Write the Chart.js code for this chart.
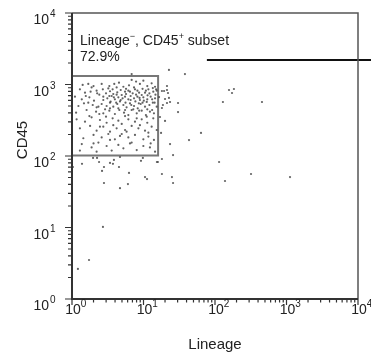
<!DOCTYPE html>
<html>
<head>
<meta charset="utf-8">
<script src="https://cdn.jsdelivr.net/npm/chart.js"></script>
<style>
  html, body { margin: 0; padding: 0; background: #fff; }
  #wrap { width: 371px; height: 354px; }
</style>
</head>
<body>
<div id="wrap"><canvas id="flow"></canvas></div>
<script>
// events inside the Lineage- CD45+ gate: [Lineage, CD45]
const gatedEvents = [
  [1.41, 985], [1.69, 1020], [2.0, 950], [2.6, 1020], [3.33, 950], [3.9, 1020], [4.54, 1060], [5.23, 930],
  [6.27, 975], [6.83, 1160], [7.87, 1100], [8.91, 1020], [9.95, 1130], [11.3, 950], [13.0, 1040], [14.5, 930],
  [1.52, 769], [1.82, 794], [2.21, 820], [2.41, 721], [2.99, 752], [3.40, 804], [3.78, 736], [4.30, 777],
  [4.96, 713], [5.52, 794], [6.14, 820], [7.06, 752], [7.60, 855], [8.68, 769], [9.44, 713], [10.8, 820],
  [12.1, 752], [13.7, 794], [15.3, 820],
  [1.37, 621], [1.75, 661], [2.03, 594], [2.74, 676], [3.12, 641], [3.59, 690], [3.98, 621], [4.45, 661],
  [4.80, 607], [5.52, 676], [6.14, 621], [6.61, 690], [7.37, 641], [8.22, 676], [8.91, 607], [9.95, 661],
  [11.3, 621], [12.6, 676], [14.5, 641],
  [1.23, 500], [1.47, 546], [1.95, 517], [2.34, 490], [2.6, 534], [3.05, 500], [3.40, 557], [3.78, 490],
  [4.30, 534], [5.23, 517], [5.80, 479], [6.47, 546], [7.37, 500], [8.30, 464], [9.13, 534], [10.5, 490],
  [12.1, 517], [13.5, 557], [15.3, 490],
  [1.14, 403], [1.60, 440], [2.17, 417], [2.74, 395], [3.33, 430], [3.98, 387], [4.59, 440], [5.34, 403],
  [6.14, 374], [6.83, 440], [8.04, 395], [9.44, 430], [10.8, 374], [12.3, 417], [14.0, 395],
  [1.16, 326], [1.52, 302], [1.88, 347], [2.46, 319], [3.05, 292], [3.70, 336], [4.45, 312], [4.96, 281],
  [6.14, 326], [7.60, 302], [9.44, 326], [11.3, 292], [13.7, 336],
  [1.29, 244], [1.79, 263], [2.21, 226], [2.74, 257], [3.40, 219], [4.21, 244], [5.52, 231], [5.80, 219],
  [6.83, 263], [8.49, 244], [10.5, 226], [13.0, 257], [15.3, 231],
  [1.44, 177], [2.0, 197], [2.6, 182], [3.22, 203], [3.98, 171], [4.69, 191], [6.14, 182], [7.60, 197],
  [9.95, 171], [11.7, 187], [14.0, 168],
  [1.37, 147], [1.88, 132], [2.34, 154], [3.05, 138], [3.59, 119], [4.45, 143], [5.23, 128], [6.83, 154],
  [8.04, 121], [9.95, 138], [12.3, 132], [14.5, 115], [2.21, 115], [1.29, 119],
  [3.22, 880], [3.70, 855], [4.21, 910], [4.80, 838], [5.70, 870], [6.47, 794], [7.37, 910], [8.22, 820],
  [9.7, 870], [10.5, 769], [11.7, 855], [13.5, 890], [15.0, 855],
  [3.33, 690], [3.85, 661], [4.21, 721], [5.1, 641], [5.70, 736], [6.61, 607], [7.87, 721], [8.8, 650],
  [10.1, 594], [11.4, 705], [13.2, 621], [14.7, 721],
  [3.47, 575], [4.15, 557], [4.69, 580], [5.6, 557], [6.75, 517], [7.7, 580], [8.6, 546], [9.7, 557],
  [11.1, 570], [14.3, 557],
  [2.9, 449], [3.40, 464], [4.45, 464], [5.52, 440], [7.2, 449], [8.7, 430], [11.3, 449], [13.2, 440],
  [1.29, 855], [1.56, 690], [1.88, 910], [2.25, 752], [2.7, 855], [1.69, 557], [2.21, 479], [1.10, 676],
  [2.74, 607], [2.41, 387], [1.75, 362], [2.99, 355],
  [3.78, 270], [4.96, 203], [8.91, 270], [11.7, 212], [6.47, 150], [3.40, 168], [2.0, 150], [12.6, 150],
  [8.04, 336], [5.52, 362], [11.1, 355], [2.46, 257]
];

// events outside the gate
const otherEvents = [
  [6.83, 1400], [22.7, 1600], [38, 1400], [21.3, 953], [21.3, 838], [18.1, 811], [19.4, 811], [22, 760],
  [16.5, 668], [20, 627], [22.7, 648], [23.5, 569], [21.3, 551], [18.7, 517], [30.4, 551], [18.1, 469],
  [30.4, 412], [17, 351], [20, 309], [157, 838], [173, 760], [184, 865], [129, 569], [454, 569],
  [63.7, 210], [43.3, 167], [17.6, 210], [23.5, 147], [25.9, 103], [15.9, 82.4], [18.1, 90.8], [114, 82.4],
  [18.1, 56], [25, 50.8], [25.9, 41.9], [319, 56], [138, 44.7], [1120, 50.8],
  [1.38, 77.7], [1.03, 70.2], [1.97, 93.9], [2.24, 93.9], [2.39, 82.4], [2.80, 70.2], [2.63, 61.8], [3.40, 80.1],
  [3.74, 77.7], [3.86, 88.2], [4.54, 70.2], [4.69, 96.9], [6.27, 58], [2.80, 41.9], [4.69, 35.5], [6.06, 40.5],
  [9.22, 85.5], [9.8, 93.9], [10.5, 50.8], [11.2, 47.6], [15.4, 82.4],
  [2.71, 10.2], [1.73, 3.51], [1.21, 2.63]
];

// gate bounds and the pointer line
const gateLineage = [1, 16];
const gateCd45 = [102, 1320];
const pointerLineage = [77, 15200];
const pointerCd45 = 2200;

const decades = [0, 1, 2, 3, 4];
const minorSteps = [2, 3, 4, 5, 6, 7, 8, 9];
const gateLabel = ['Lineage', '−', ', CD45', '+', ' subset'];
const gatePercent = '72.9%';

const toPts = arr => arr.map(e => ({ x: e[0], y: e[1] }));

const gatePath = [
  { x: gateLineage[0], y: gateCd45[0] }, { x: gateLineage[1], y: gateCd45[0] },
  { x: gateLineage[1], y: gateCd45[1] }, { x: gateLineage[0], y: gateCd45[1] },
  { x: gateLineage[0], y: gateCd45[0] }
];

const FONT = '"Liberation Sans", Arial, sans-serif';

// frame, log ticks, labels and the gate annotation
const flowAxes = {
  id: 'flowAxes',
  afterDraw(chart) {
    const { ctx, chartArea: a, scales: { x, y } } = chart;
    ctx.save();

    // top/right box
    ctx.strokeStyle = '#555';
    ctx.lineWidth = 1.5;
    ctx.beginPath();
    ctx.moveTo(a.left, a.top);
    ctx.lineTo(a.right, a.top);
    ctx.lineTo(a.right, a.bottom);
    ctx.stroke();

    // left and bottom axes
    ctx.strokeStyle = '#333';
    ctx.lineWidth = 2;
    ctx.beginPath();
    ctx.moveTo(a.left, a.top);
    ctx.lineTo(a.left, a.bottom);
    ctx.lineTo(a.right, a.bottom);
    ctx.stroke();

    // ticks
    ctx.lineWidth = 1.2;
    ctx.strokeStyle = '#333';
    ctx.beginPath();
    decades.forEach(d => {
      const v = Math.pow(10, d);
      const px = x.getPixelForValue(v), py = y.getPixelForValue(v);
      ctx.moveTo(px, a.bottom); ctx.lineTo(px, a.bottom + 6);
      ctx.moveTo(a.left, py); ctx.lineTo(a.left - 7, py);
      if (d < 4) {
        minorSteps.forEach(m => {
          const mx = x.getPixelForValue(m * v), my = y.getPixelForValue(m * v);
          ctx.moveTo(mx, a.bottom); ctx.lineTo(mx, a.bottom + 3.5);
          ctx.moveTo(a.left, my); ctx.lineTo(a.left - 4, my);
        });
      }
    });
    ctx.stroke();

    // tick labels 10^n
    ctx.fillStyle = '#222';
    decades.forEach(d => {
      const v = Math.pow(10, d);
      // x axis
      const px = x.getPixelForValue(v);
      ctx.font = '14px ' + FONT;
      ctx.textAlign = 'center';
      ctx.textBaseline = 'alphabetic';
      const w10 = ctx.measureText('10').width;
      ctx.fillText('10', px + 1, a.bottom + 15);
      ctx.font = '10px ' + FONT;
      ctx.textAlign = 'left';
      ctx.fillText(String(d), px + 1 + w10 / 2, a.bottom + 8);
      // y axis
      const py = y.getPixelForValue(v);
      ctx.font = '14px ' + FONT;
      ctx.textAlign = 'right';
      ctx.fillText('10', 49, py + 11);
      ctx.font = '10px ' + FONT;
      ctx.textAlign = 'left';
      ctx.fillText(String(d), 50, py + 4);
    });

    // axis titles
    ctx.font = '15px ' + FONT;
    ctx.textAlign = 'center';
    ctx.fillText('Lineage', (a.left + a.right) / 2 + 0, 349);
    ctx.save();
    ctx.translate(27, 140);
    ctx.rotate(-Math.PI / 2);
    ctx.fillText('CD45', 0, 0);
    ctx.restore();

    // gate annotation
    let tx = a.left + 8;
    const ty = 45;
    ctx.textAlign = 'left';
    gateLabel.forEach((part, i) => {
      const sup = i % 2 === 1;
      ctx.font = (sup ? '9px ' : '14px ') + FONT;
      ctx.fillText(part, tx, sup ? ty - 6 : ty);
      tx += ctx.measureText(part).width;
    });
    ctx.font = '14px ' + FONT;
    ctx.fillText(gatePercent, a.left + 8, ty + 16);

    ctx.restore();
  }
};

new Chart(document.getElementById('flow'), {
  type: 'scatter',
  data: {
    datasets: [
      {
        data: toPts(gatedEvents),
        pointRadius: 1.1,
        pointBackgroundColor: 'rgba(70,70,70,0.85)',
        pointBorderWidth: 0
      },
      {
        data: toPts(otherEvents),
        pointRadius: 1.1,
        pointBackgroundColor: 'rgba(70,70,70,0.85)',
        pointBorderWidth: 0
      },
      {
        type: 'line',
        data: gatePath,
        borderColor: '#777',
        borderWidth: 2,
        pointRadius: 0,
        fill: false,
        tension: 0
      },
      {
        type: 'line',
        data: pointerLineage.map(v => ({ x: v, y: pointerCd45 })),
        borderColor: '#111',
        borderWidth: 2,
        pointRadius: 0,
        clip: false
      }
    ]
  },
  options: {
    responsive: true,
    maintainAspectRatio: false,
    animation: false,
    events: [],
    layout: { padding: { left: 72, right: 13, top: 13, bottom: 55 } },
    plugins: { legend: { display: false }, tooltip: { enabled: false } },
    scales: {
      x: { type: 'logarithmic', min: 1, max: 10000, display: false },
      y: { type: 'logarithmic', min: 1, max: 10000, display: false }
    }
  },
  plugins: [flowAxes]
});
</script>
</body>
</html>
